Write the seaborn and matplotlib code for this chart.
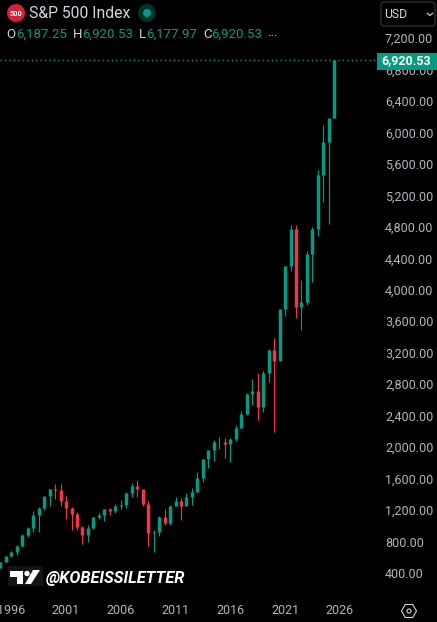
import numpy as np
import pandas as pd
import matplotlib
matplotlib.use('Agg')
import matplotlib.pyplot as plt
import matplotlib.patches as mpatches
import seaborn as sns

# ============ DATA (half-year candles) ============
years = np.arange(1995, 2026)
opens = [459.27, 544.75, 615.93, 670.63, 740.74, 885.14, 970.43, 1133.84, 1229.23, 1372.71,
         1469.25, 1454.60, 1320.28, 1224.38, 1148.08, 989.82, 879.82, 974.50, 1111.92, 1140.84,
         1211.92, 1191.33, 1248.29, 1270.20, 1418.30, 1503.35, 1468.36, 1280.00, 903.25, 919.32,
         1115.10, 1030.71, 1257.64, 1320.64, 1257.60, 1362.16, 1426.19, 1606.28, 1848.36, 1960.23,
         2058.90, 2063.11, 2043.94, 2098.86, 2238.83, 2423.41, 2673.61, 2718.37, 2506.85, 2941.76,
         3230.78, 3100.29, 3756.07, 4297.50, 4766.18, 3785.38, 3839.50, 4450.38, 4769.83, 5460.48,
         5881.63, 6187.25]
highs = [546, 622, 680, 757, 898, 983, 1190, 1244, 1372, 1473,
         1527, 1530, 1384, 1240, 1176, 994, 1015, 1112, 1163, 1217,
         1229, 1275, 1326, 1431, 1540, 1576, 1471, 1313, 946, 1130,
         1219, 1262, 1370, 1356, 1422, 1474, 1687, 1849, 1968, 2093,
         2134, 2116, 2120, 2277, 2453, 2694, 2872, 2940, 2964, 3247,
         3393, 3760, 4302, 4818, 4818, 4119, 4493, 4793, 5523, 6099,
         6147, 6920.53]
lows = [459, 540, 598, 626, 733, 855, 927, 923, 1205, 1247,
        1339, 1254, 1081, 944, 952, 768, 788, 960, 1091, 1060,
        1137, 1168, 1219, 1224, 1363, 1370, 1256, 741, 666, 869,
        1010, 1010, 1249, 1074, 1258, 1266, 1426, 1560, 1737, 1820,
        1980, 1867, 1810, 2074, 2245, 2405, 2532, 2346, 2443, 2822,
        2191, 3115, 3662, 4233, 3636, 3491, 3808, 4103, 4682, 5119,
        4835, 6177.97]
closes = [544.75, 615.93, 670.63, 740.74, 885.14, 970.43, 1133.84, 1229.23, 1372.71, 1469.25,
          1454.60, 1320.28, 1224.38, 1148.08, 989.82, 879.82, 974.50, 1111.92, 1140.84, 1211.92,
          1191.33, 1248.29, 1270.20, 1418.30, 1503.35, 1468.36, 1280.00, 903.25, 919.32, 1115.10,
          1030.71, 1257.64, 1320.64, 1257.60, 1362.16, 1426.19, 1606.28, 1848.36, 1960.23, 2058.90,
          2063.11, 2043.94, 2098.86, 2238.83, 2423.41, 2673.61, 2718.37, 2506.85, 2941.76, 3230.78,
          3100.29, 3756.07, 4297.50, 4766.18, 3785.38, 3839.50, 4450.38, 4769.83, 5460.48, 5881.63,
          6187.25, 6920.53]
price_ticks = [400, 800, 1200, 1600, 2000, 2400, 2800, 3200, 3600, 4000,
               4400, 4800, 5200, 5600, 6000, 6400, 6800, 7200]
year_ticks = [1996, 2001, 2006, 2011, 2016, 2021, 2026]
last_price = 6920.53

GREEN = '#089981'
RED = '#F23645'
GREY = '#B2B5BE'

df = pd.DataFrame({'open': opens, 'high': highs, 'low': lows, 'close': closes})
df['t'] = np.repeat(years, 2) + np.tile([0.0, 0.5], len(years))
df['dir'] = np.where(df['close'] >= df['open'], 'up', 'down')
df['candle'] = df.index

wicks = df.melt(id_vars=['candle', 't', 'dir'], value_vars=['low', 'high'], value_name='price')
bodies = df.melt(id_vars=['candle', 't', 'dir'], value_vars=['open', 'close'], value_name='price')

# ============ FIGURE ============
sns.set_theme(style='dark', rc={'axes.facecolor': 'black', 'figure.facecolor': 'black'})
plt.rcParams['font.family'] = ['Roboto', 'DejaVu Sans']

W, H = 437, 622
fig = plt.figure(figsize=(W / 100, H / 100), dpi=100)
ax = fig.add_axes([0, (H - 597) / H, 378 / W, 597 / H])

palette = {'up': GREEN, 'down': RED}
sns.lineplot(data=wicks, x='t', y='price', hue='dir', units='candle', estimator=None,
             palette=palette, linewidth=0.85, legend=False, sort=False,
             solid_capstyle='butt', ax=ax)
sns.lineplot(data=bodies, x='t', y='price', hue='dir', units='candle', estimator=None,
             palette=palette, linewidth=2.5, legend=False, sort=False,
             solid_capstyle='butt', ax=ax)
ax.axhline(last_price, color=GREEN, linewidth=1.0, linestyle=(0, (1, 2.2)))

# 573 px = 400 pts, 0.07868 px per point
ax.set_ylim(95, 7682.6)
ax.set_xlim(1994.968, 2029.49)
sns.despine(ax=ax, left=True, bottom=True)
ax.grid(False)
ax.set_xlabel('')
ax.set_ylabel('')

ax.yaxis.tick_right()
ax.set_yticks(price_ticks)
ax.set_yticklabels([f'{p:,.2f}' for p in price_ticks], color=GREY, fontsize=9)
ax.set_xticks(year_ticks)
ax.set_xticklabels(year_ticks, color=GREY, fontsize=9)
ax.tick_params(axis='y', length=0, pad=5)
ax.tick_params(axis='x', length=0, pad=5)

# ============ OVERLAY IN PIXELS ============
ov = fig.add_axes([0, 0, 1, 1], facecolor='none')
ov.set_xlim(0, W)
ov.set_ylim(H, 0)
ov.axis('off')

# price tag
ov.add_patch(mpatches.Rectangle((377, 53), 60, 17, color=GREEN, lw=0))
ov.text(431, 61, f'{last_price:,.2f}', color='white', fontsize=9, fontweight='bold',
        ha='right', va='center')

# header
ov.add_patch(mpatches.Circle((16, 13), 9, color='#D5203A', lw=0))
ov.text(16, 13.5, '500', color='white', fontsize=5.2, fontweight='bold', ha='center', va='center')
ov.text(29, 13.5, 'S&P 500 Index', color='#D1D4DC', fontsize=11.3, ha='left', va='center')
ov.add_patch(mpatches.Circle((147, 13), 9, color='#06302A', lw=0))
ov.add_patch(mpatches.Circle((147, 13), 4, color=GREEN, lw=0))

ohlc = [('O', '6,187.25', 6, 16), ('H', '6,920.53', 73, 82), ('L', '6,177.97', 139, 146),
        ('C', '6,920.53', 203, 211)]
for letter, val, x0, x1 in ohlc:
    ov.text(x0, 34, letter, color='#D1D4DC', fontsize=9.5, ha='left', va='center')
    ov.text(x1, 34, val, color=GREEN, fontsize=9.5, ha='left', va='center')
ov.text(267, 32, '...', color='#D1D4DC', fontsize=9.5, ha='left', va='center')

# currency box
ov.add_patch(mpatches.FancyBboxPatch((381, 2), 54, 24, boxstyle='round,pad=0,rounding_size=3',
                                     fc='black', ec='#363A45', lw=0.8))
ov.text(384, 14, 'USD', color='#D1D4DC', fontsize=8.8, ha='left', va='center')
ov.plot([427, 430, 433], [13, 15.5, 13], color='#D1D4DC', lw=0.8)

# watermark
ov.add_patch(mpatches.Rectangle((8, 566), 35, 20, color='#141414', lw=0))
ov.add_patch(mpatches.Polygon([(10, 571), (23, 571), (23, 584), (17, 584), (17, 577), (10, 577)],
                              color='white', lw=0))
ov.add_patch(mpatches.Circle((27, 573.5), 2.7, color='white', lw=0))
ov.add_patch(mpatches.Polygon([(33, 570), (40, 570), (31, 584), (25, 584)], color='white', lw=0))
ov.text(46, 578, '@KOBEISSILETTER', color='white', fontsize=11.8, fontweight='bold',
        fontstyle='italic', ha='left', va='center')

# settings icon
ov.add_patch(mpatches.RegularPolygon((409, 611), 6, radius=7.5, orientation=np.pi / 2,
                                     fc='none', ec='#D1D4DC', lw=0.8))
ov.add_patch(mpatches.Circle((409, 611), 2, fc='none', ec='#D1D4DC', lw=0.8))

plt.savefig('out.png', dpi=100, facecolor='black')
